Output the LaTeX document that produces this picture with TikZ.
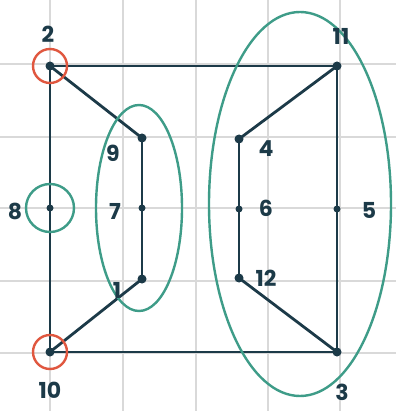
\documentclass[tikz,border=0pt]{standalone}
\usepackage{fontspec}
\setmainfont{Poppins}
\definecolor{ink}{HTML}{1C3A48}
\definecolor{teal}{HTML}{3E9C88}
\definecolor{redc}{HTML}{E0573F}
\definecolor{gridc}{HTML}{D9D9D9}
\begin{document}
\begin{tikzpicture}[x=1pt,y=-1pt,
  vtx/.style={circle,fill=ink,inner sep=0pt,minimum size=9pt},
  edge/.style={draw=ink,line width=2.8pt},
  lbl/.style={text=ink,font=\fontsize{22}{22}\selectfont\bfseries},
  grp/.style={draw=teal,line width=2.4pt},
  hl/.style={draw=redc,line width=2.4pt}]
\useasboundingbox (0,0) rectangle (396,411);
\fill[white] (0,0) rectangle (396,411);
% grid
\foreach \gx in {50,123,196,268,340} \draw[gridc,line width=1.6pt] (\gx,0) -- (\gx,411);
\foreach \gy in {64,137,208,281,353} \draw[gridc,line width=1.6pt] (0,\gy) -- (396,\gy);
% vertices
\node[vtx] (n2) at (50,66) {};
\node[vtx] (n11) at (337,66) {};
\node[vtx] (n9) at (142,138) {};
\node[vtx] (n4) at (239,139) {};
\node[vtx,minimum size=7pt] (n8) at (50,208) {};
\node[vtx,minimum size=7pt] (n7) at (142,208) {};
\node[vtx,minimum size=7pt] (n6) at (239,209) {};
\node[vtx,minimum size=7pt] (n5) at (337,209) {};
\node[vtx] (n1) at (142,279) {};
\node[vtx] (n12) at (239,278) {};
\node[vtx] (n10) at (50,352) {};
\node[vtx] (n3) at (337,352) {};
% edges
\draw[edge] (n2.center) -- (n11.center);
\draw[edge] (n2.center) -- (n8.center) -- (n10.center);
\draw[edge] (n2.center) -- (n9.center);
\draw[edge] (n9.center) -- (n7.center) -- (n1.center);
\draw[edge] (n1.center) -- (n10.center);
\draw[edge] (n10.center) -- (n3.center);
\draw[edge] (n11.center) -- (n5.center) -- (n3.center);
\draw[edge] (n11.center) -- (n4.center);
\draw[edge] (n4.center) -- (n6.center) -- (n12.center);
\draw[edge] (n12.center) -- (n3.center);
% highlights
\draw[hl] (n2.center) circle[radius=17];
\draw[hl] (n10.center) circle[radius=17];
\draw[grp] (n8.center) circle[radius=24];
\draw[grp] (139,208) ellipse[x radius=43,y radius=103];
\draw[grp] (300,204) ellipse[x radius=91,y radius=192];
% labels
\node[lbl] (l2) at (48,34) {2};
\node[lbl] (l11) at (341,36) {11};
\node[lbl] (l9) at (113,153) {9};
\node[lbl] (l4) at (266,149) {4};
\node[lbl] (l8) at (15,211) {8};
\node[lbl] (l7) at (115,211) {7};
\node[lbl] (l6) at (266,208) {6};
\node[lbl] (l5) at (369,210) {5};
\node[lbl] (l1) at (117,290) {1};
\node[lbl] (l12) at (266,278) {12};
\node[lbl] (l10) at (50,390) {10};
\node[lbl] (l3) at (342,392) {3};
\end{tikzpicture}
\end{document}
